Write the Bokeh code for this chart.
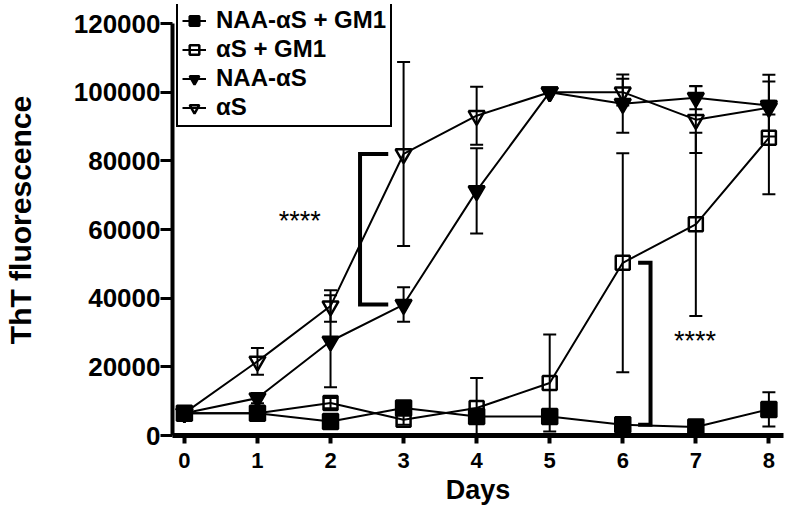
from bokeh.plotting import figure
from bokeh.models import (ColumnDataSource, Whisker, TeeHead, FixedTicker,
                          NumeralTickFormatter, Legend, LegendItem)
from bokeh.embed import file_html
from bokeh.resources import INLINE
from bokeh.core.properties import value

# ---------------- data ----------------
days = [0, 1, 2, 3, 4, 5, 6, 7, 8]
naa_gm1 = [6500, 6500, 4100, 8000, 5550, 5550, 3100, 2450, 7600]
naa_gm1_err = [0, 1000, 0, 0, 0, 0, 0, 0, 5000]
as_gm1 = [6500, 6500, 9450, 4600, 8000, 15300, 50300, 61500, 86700]
as_gm1_err = [0, 0, 1500, 1500, 8750, 14100, 31900, 26700, 16400]
naa = [6500, 10900, 27450, 38150, 71250, 100000, 96650, 98400, 96100]
naa_err = [0, 1500, 13400, 5000, 12400, 0, 8500, 3400, 9000]
a_s = [6500, 21600, 37700, 82000, 93150, 100000, 100000, 92000, 95500]
a_s_err = [0, 3900, 4600, 26800, 8450, 0, 3900, 9700, 2000]
series_labels = ["NAA-\u03b1S + GM1", "\u03b1S + GM1", "NAA-\u03b1S", "\u03b1S"]
x_ticks = [0, 1, 2, 3, 4, 5, 6, 7, 8]
y_ticks = [0, 20000, 40000, 60000, 80000, 100000, 120000]
stars = "****"

FONT = "Liberation Sans"

# frame spans 4..435 px vertically; the y axis itself is bounded to 0..120000
p = figure(width=786, height=511, x_range=(-0.163, 8.2), y_range=(0, 125540),
           output_backend="svg", toolbar_location=None,
           min_border_left=168, min_border_right=3, min_border_top=4,
           min_border_bottom=76)
p.outline_line_color = None
p.xgrid.visible = False
p.ygrid.visible = False
p.background_fill_color = "white"
p.border_fill_color = "white"

# axes
xa = p.xaxis[0]
xa.ticker = FixedTicker(ticks=x_ticks)
xa.axis_line_width = 5
xa.major_tick_out = 8
xa.major_tick_in = 0
xa.major_tick_line_width = 4
xa.minor_tick_line_color = None
xa.major_label_text_font = FONT
xa.major_label_text_font_style = "bold"
xa.major_label_text_font_size = "22px"
xa.major_label_text_color = "black"
xa.major_label_standoff = 9
xa.axis_label = "Days"
xa.axis_label_text_font = FONT
xa.axis_label_text_font_style = "bold"
xa.axis_label_text_font_size = "27px"
xa.axis_label_text_color = "black"
xa.axis_label_standoff = 4

ya = p.yaxis[0]
ya.ticker = FixedTicker(ticks=y_ticks)
ya.bounds = (y_ticks[0], y_ticks[-1])
ya.formatter = NumeralTickFormatter(format="0")
ya.axis_line_width = 4
ya.major_tick_out = 12
ya.major_tick_in = 0
ya.major_tick_line_width = 3
ya.minor_tick_line_color = None
ya.major_label_text_font = FONT
ya.major_label_text_font_style = "bold"
ya.major_label_text_font_size = "26px"
ya.major_label_text_color = "black"
ya.major_label_standoff = 0
ya.axis_label = "ThT fluorescence"
ya.axis_label_text_font = FONT
ya.axis_label_text_font_style = "bold"
ya.axis_label_text_font_size = "30px"
ya.axis_label_text_color = "black"
ya.axis_label_standoff = 34


def add_errors(ys, errs):
    xs = [d for d, e in zip(days, errs) if e > 0]
    up = [y + e for y, e in zip(ys, errs) if e > 0]
    lo = [max(y - e, 0) for y, e in zip(ys, errs) if e > 0]
    src = ColumnDataSource(dict(x=xs, upper=up, lower=lo))
    w = Whisker(base="x", upper="upper", lower="lower", source=src,
                line_width=2, line_color="black",
                upper_head=TeeHead(size=13, line_width=2, line_color="black"),
                lower_head=TeeHead(size=13, line_width=2, line_color="black"))
    p.add_layout(w)


series = [
    (naa_gm1, naa_gm1_err, "square", "black", 15),
    (as_gm1, as_gm1_err, "square", None, 14),
    (naa, naa_err, "inverted_triangle", "black", 16),
    (a_s, a_s_err, "inverted_triangle", None, 16),
]

items = []
for (ys, errs, marker, fill, size), lab in zip(series, series_labels):
    add_errors(ys, errs)
    src = ColumnDataSource(dict(x=days, y=ys))
    lr = p.line("x", "y", source=src, line_color="black", line_width=2)
    sr = p.scatter("x", "y", source=src, marker=marker, size=size,
                   fill_color=fill, line_color="black", line_width=2.5)
    items.append(LegendItem(label=lab, renderers=[lr, sr]))

# significance brackets
b1_top, b1_bot = a_s[3], naa[3]
p.line([days[3] - 0.21, days[3] - 0.596, days[3] - 0.596, days[3] - 0.21],
       [b1_top, b1_top, b1_bot, b1_bot], line_color="black", line_width=4,
       line_join="miter")
b2_top, b2_bot = as_gm1[6], naa_gm1[6]
p.line([days[6] + 0.21, days[6] + 0.38, days[6] + 0.38, days[6] + 0.21],
       [b2_top, b2_top, b2_bot, b2_bot], line_color="black", line_width=4,
       line_join="miter")

p.text(x=[1.58, 6.99], y=[(b1_top + b1_bot) / 2 + 2500, (b2_top + b2_bot) / 2 + 700],
       text=[stars, stars], text_font=value(FONT), text_font_size="27px",
       text_align="center", text_baseline="middle", text_color="black")

legend = Legend(items=items, location=(4, 308))
legend.border_line_color = "black"
legend.border_line_width = 2
legend.border_line_alpha = 1
legend.background_fill_color = "white"
legend.background_fill_alpha = 1
legend.label_text_font = FONT
legend.label_text_font_style = "bold"
legend.label_text_font_size = "24px"
legend.label_text_color = "black"
legend.padding = 4
legend.margin = 0
legend.spacing = 1
legend.glyph_width = 24
legend.glyph_height = 27
legend.label_standoff = 10
legend.label_height = 27
p.add_layout(legend)

open("out.html", "w").write(file_html(p, INLINE))
